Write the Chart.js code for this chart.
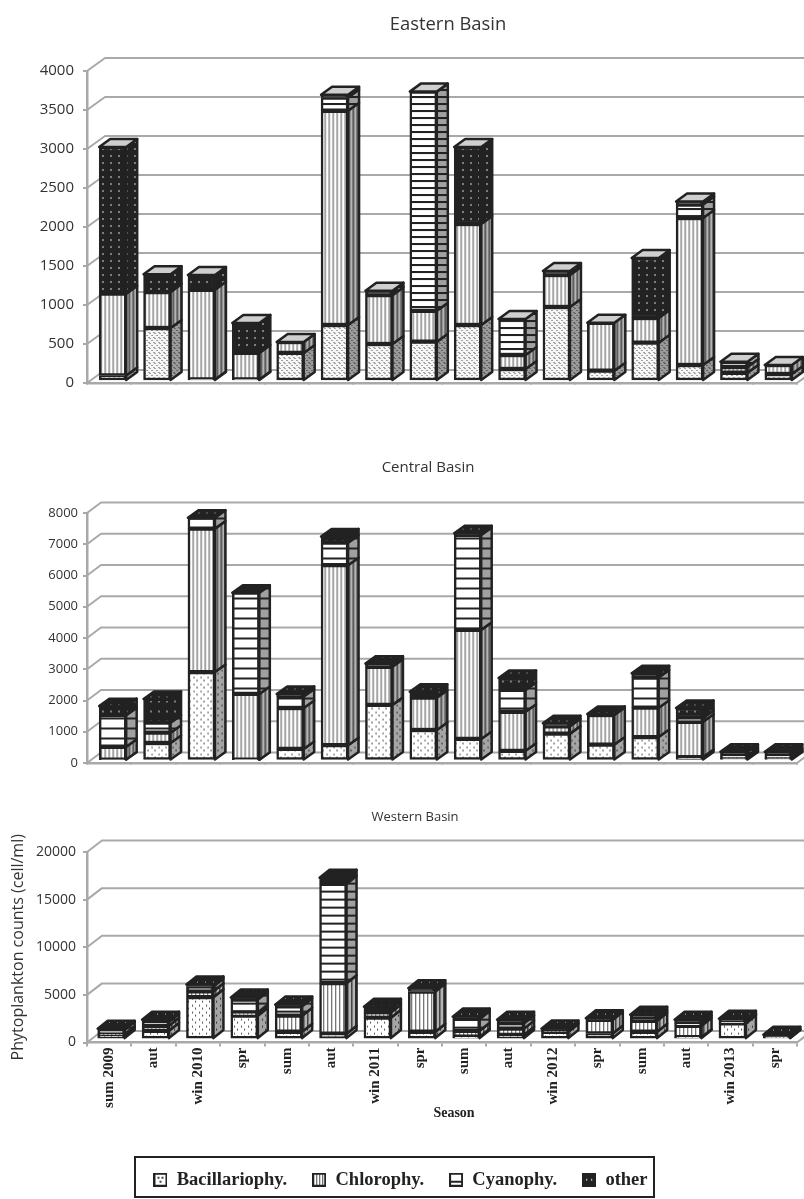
<!DOCTYPE html>
<html>
<head>
<meta charset="utf-8">
<script src="https://cdn.jsdelivr.net/npm/chart.js@4"></script>
<style>
html,body{margin:0;padding:0;background:#fff;width:804px;height:1199px;overflow:hidden}
canvas{position:absolute;left:0}
</style>
</head>
<body>
<canvas id="east" width="804" height="440" style="top:0"></canvas>
<canvas id="central" width="804" height="350" style="top:440px"></canvas>
<canvas id="west" width="804" height="409" style="top:790px"></canvas>
<script>
const categories = ['sum 2009','aut','win 2010','spr','sum','aut','win 2011','spr','sum','aut','win 2012','spr','sum','aut','win 2013','spr'];
const seriesNames = ['Bacillariophy.','Chlorophy.','Cyanophy.','other'];

const eastBac   = [70,680,20,20,360,718,474,504,718,154,949,132,491,205,106,90];
const eastChl   = [1050,460,1150,340,140,2747,626,396,1295,179,410,615,317,1885,73,115];
const eastCya   = [0,0,0,0,0,170,0,2810,0,462,0,0,0,172,68,0];
const eastOth   = [1880,230,190,385,0,35,58,0,987,0,51,0,769,38,0,0];

const centralBac = [30,560,2830,25,370,490,1780,975,690,310,860,510,750,110,60,60];
const centralChl = [410,330,4590,2105,1310,5760,1220,1035,3490,1250,235,945,940,1130,40,40];
const centralCya = [1010,320,350,3240,365,720,0,0,3040,700,0,0,970,120,50,50];
const centralOth = [290,760,0,0,85,200,100,190,50,380,95,35,130,320,130,130];

const westBac = [450,880,4400,2460,770,560,2250,770,250,450,770,590,770,200,1650,150];
const westChl = [80,520,620,340,1690,5310,550,4230,620,650,110,1440,1160,1200,60,50];
const westCya = [450,430,500,1350,980,10430,0,0,1250,550,0,0,250,250,100,0];
const westOth = [105,210,220,210,180,630,600,340,240,380,220,150,380,380,330,250];

const INK = '#222222', AXIS = '#a9a9a9', SANS = '"Open Sans"', SERIF = '"Liberation Serif"';
const helper = document.createElement('canvas').getContext('2d');

function tile(w, h, paint) {
  const c = document.createElement('canvas');
  c.width = w; c.height = h;
  paint(c.getContext('2d'), w, h);
  return helper.createPattern(c, 'repeat');
}
function dots(w, h, bg, fg, pts, s) {
  return tile(w, h, (g) => {
    g.fillStyle = bg; g.fillRect(0, 0, w, h);
    g.fillStyle = fg;
    pts.forEach(p => g.fillRect(p[0], p[1], s[0], s[1]));
  });
}
function vlines(bg, c1, c2) {
  return tile(4, 2, (g) => {
    g.fillStyle = bg; g.fillRect(0, 0, 4, 2);
    g.fillStyle = c1; g.fillRect(1, 0, 1, 2);
    g.fillStyle = c2; g.fillRect(2, 0, 1, 2);
  });
}
function hlines(step, bg) {
  return tile(4, step, (g) => {
    g.fillStyle = bg; g.fillRect(0, 0, 4, step);
    g.fillStyle = INK; g.fillRect(0, 0, 4, 2);
  });
}

function makePatterns(kind) {
  const dense = kind === 'east';
  const step = kind === 'east' ? 7 : kind === 'central' ? 10 : 8;
  const othH = kind === 'east' ? 7 : kind === 'central' ? 10 : 12;
  const bacF = dense
    ? dots(5, 5, '#f6f6f6', '#555', [[1,0],[3,2],[0,4]], [1,1])
    : dots(7, 7, '#ffffff', '#555', [[1,1],[4,4]], [1,2]);
  const bacS = dense
    ? dots(5, 5, '#9a9a9a', '#333', [[1,0],[3,2],[0,4]], [1,1])
    : dots(7, 7, '#a5a5a5', '#333', [[1,1],[4,4]], [1,2]);
  const othP = dots(8, othH, INK, '#d8d8d8', [[3,3]], [1,2]);
  return {
    front: [bacF, vlines('#ffffff', '#777', '#d4d4d4'), hlines(step, '#ffffff'), othP],
    side:  [bacS, vlines('#b4b4b4', '#444', '#777'), hlines(step, '#a0a0a0'), othP],
    top: kind === 'east' ? '#cfcfcf' : dots(8, 8, INK, '#bbb', [[3,3]], [1,1])
  };
}

function box3d(cfg) {
  return {
    id: 'box3d',
    afterLayout(chart) {
      const b = chart.titleBlock;
      b.left = cfg.titleX - 100;
      b.right = cfg.titleX + 100;
      if (chart.legend && chart.legend.options.display) {
        chart.legend.left += 2;
        chart.legend.right += 2;
      }
    },
    beforeDatasetsDraw(chart) {
      const { ctx, scales } = chart, y = scales.y, area = chart.chartArea;
      ctx.save();
      ctx.strokeStyle = AXIS; ctx.lineWidth = 2; ctx.lineJoin = 'round';
      y.ticks.forEach(t => {
        const py = y.getPixelForValue(t.value);
        ctx.beginPath();
        ctx.moveTo(area.left, py);
        ctx.lineTo(area.left + cfg.wallX, py - cfg.wallY);
        ctx.lineTo(chart.width + 4, py - cfg.wallY);
        ctx.stroke();
      });
      ctx.beginPath();
      ctx.moveTo(area.right, area.bottom);
      ctx.lineTo(area.right + cfg.wallX, area.bottom - cfg.wallY);
      ctx.stroke();
      ctx.restore();
      ctx.save();
      ctx.translate(cfg.shiftX, cfg.shiftY);
    },
    afterDatasetsDraw(chart) {
      const ctx = chart.ctx, dx = cfg.depthX, dy = cfg.depthY;
      const P = cfg.patterns;
      ctx.lineWidth = 2.5; ctx.strokeStyle = INK; ctx.lineJoin = 'round';
      chart.data.datasets.forEach((ds, d) => {
        chart.getDatasetMeta(d).data.forEach((el, j) => {
          if (!(ds.data[j] > 0)) return;
          const r = el.x + el.width / 2, t = el.y, b = el.base;
          ctx.beginPath();
          ctx.moveTo(r, t); ctx.lineTo(r + dx, t - dy);
          ctx.lineTo(r + dx, b - dy); ctx.lineTo(r, b);
          ctx.closePath();
          ctx.fillStyle = P.side[d];
          ctx.fill(); ctx.stroke();
        });
      });
      categories.forEach((c, j) => {
        let last = -1;
        chart.data.datasets.forEach((ds, d) => { if (ds.data[j] > 0) last = d; });
        if (last < 0) return;
        const el = chart.getDatasetMeta(last).data[j];
        const l = el.x - el.width / 2, r = el.x + el.width / 2, t = el.y;
        ctx.beginPath();
        ctx.moveTo(l, t); ctx.lineTo(r, t);
        ctx.lineTo(r + dx, t - dy); ctx.lineTo(l + dx, t - dy);
        ctx.closePath();
        ctx.fillStyle = P.top; ctx.fill(); ctx.stroke();
      });
      ctx.restore();
    }
  };
}

function swatch(kind) {
  const c = document.createElement('canvas');
  c.width = 14; c.height = 14;
  const g = c.getContext('2d');
  g.fillStyle = INK; g.fillRect(0, 0, 14, 14);
  g.fillStyle = kind === 3 ? INK : '#fff'; g.fillRect(2, 2, 10, 10);
  if (kind === 0) { g.fillStyle = '#444'; [[4,4],[8,4],[6,8]].forEach(p => g.fillRect(p[0], p[1], 2, 2)); }
  if (kind === 1) { g.fillStyle = '#444'; [4,7,10].forEach(x => g.fillRect(x, 2, 1, 10)); }
  if (kind === 2) { g.fillStyle = INK; g.fillRect(2, 8, 10, 2); }
  if (kind === 3) { g.fillStyle = '#ddd'; g.fillRect(4, 6, 1, 2); g.fillRect(9, 6, 1, 2); }
  return c;
}

function buildChart(id, cfg) {
  const P = makePatterns(cfg.kind);
  cfg.patterns = P;
  const datasets = seriesNames.map((name, i) => ({
    label: name,
    data: cfg.values[i],
    backgroundColor: P.front[i],
    borderColor: INK,
    borderWidth: 2.5,
    borderSkipped: false,
    barThickness: 27,
    clip: false
  }));
  const west = cfg.kind === 'west';
  const plugins = [box3d(cfg)];
  if (west) {
    plugins.push({
      id: 'legendFrame',
      afterDraw(chart) {
        const ctx = chart.ctx;
        ctx.save();
        ctx.strokeStyle = INK; ctx.lineWidth = 2;
        ctx.strokeRect(135, 367, 519, 40);
        ctx.fillStyle = INK;
        ctx.font = 'bold 14px ' + SERIF;
        ctx.textAlign = 'center'; ctx.textBaseline = 'middle';
        ctx.fillText('Season', 454, 323);
        ctx.restore();
      }
    });
  }
  return new Chart(document.getElementById(id), {
    type: 'bar',
    data: { labels: categories, datasets },
    plugins,
    options: {
      responsive: false,
      animation: false,
      events: [],
      layout: { autoPadding: false, padding: { left: 0, right: 7, top: 0, bottom: 0 } },
      plugins: {
        tooltip: { enabled: false },
        title: {
          display: true,
          text: cfg.title,
          color: '#333',
          font: { family: SANS, size: cfg.titleSize, weight: 'normal', lineHeight: 18 / cfg.titleSize },
          padding: { top: cfg.titleTop, bottom: cfg.titleBottom }
        },
        legend: west ? {
          display: true,
          position: 'bottom',
          labels: {
            usePointStyle: true,
            pointStyleWidth: 14,
            boxHeight: 14,
            padding: 25,
            color: INK,
            font: { family: SERIF, size: 18.5, weight: 'bold' },
            generateLabels: () => seriesNames.map((n, i) => ({
              text: n, pointStyle: swatch(i), datasetIndex: i, fontColor: INK, lineWidth: 0, hidden: false
            }))
          }
        } : { display: false }
      },
      scales: {
        x: {
          stacked: true,
          afterFit: s => { s.height = cfg.xHeight; },
          border: { color: AXIS, width: 2.5 },
          grid: { drawOnChartArea: false, color: AXIS, lineWidth: 2, tickLength: west ? 4 : 2 },
          ticks: {
            display: west,
            autoSkip: false,
            minRotation: 90,
            maxRotation: 90,
            padding: 1,
            color: INK,
            font: { family: SERIF, size: 15, weight: 'bold' }
          }
        },
        y: {
          stacked: true,
          min: 0,
          max: cfg.max,
          afterFit: s => { s.width = 87; },
          border: { color: AXIS, width: 2.5 },
          grid: { drawOnChartArea: false, color: AXIS, lineWidth: 2, tickLength: 4 },
          title: west ? {
            display: true,
            text: 'Phytoplankton counts (cell/ml)',
            color: '#333',
            font: { family: SANS, size: 16, weight: 'normal', lineHeight: 1.2 },
            padding: { top: 9, bottom: 0 }
          } : { display: false },
          ticks: {
            stepSize: cfg.step,
            padding: cfg.tickPad,
            color: '#333',
            font: { family: SANS, size: cfg.tickSize },
            callback: v => String(v)
          }
        }
      }
    }
  });
}

buildChart('east', {
  kind: 'east', title: 'Eastern Basin', max: 4000, step: 500,
  values: [eastBac, eastChl, eastCya, eastOth],
  titleTop: 16, titleBottom: 37, xHeight: 57, titleX: 448, titleSize: 18.4, tickSize: 15, tickPad: 9,
  wallX: 18, wallY: 13, depthX: 11, depthY: 8, shiftX: 3.5, shiftY: -2
});
buildChart('central', {
  kind: 'central', title: 'Central Basin', max: 8000, step: 1000,
  values: [centralBac, centralChl, centralCya, centralOth],
  titleTop: 19, titleBottom: 36, xHeight: 27, titleX: 428, titleSize: 15, tickSize: 13, tickPad: 5,
  wallX: 14, wallY: 10.5, depthX: 10.5, depthY: 7.5, shiftX: 3.5, shiftY: -2.5
});
buildChart('west', {
  kind: 'west', title: 'Western Basin', max: 20000, step: 5000,
  values: [westBac, westChl, westCya, westOth],
  titleTop: 18, titleBottom: 26, xHeight: 103, titleX: 415, titleSize: 13, tickSize: 14, tickPad: 7,
  wallX: 15, wallY: 11.5, depthX: 10, depthY: 8, shiftX: 2, shiftY: -3.4
});
</script>
</body>
</html>
